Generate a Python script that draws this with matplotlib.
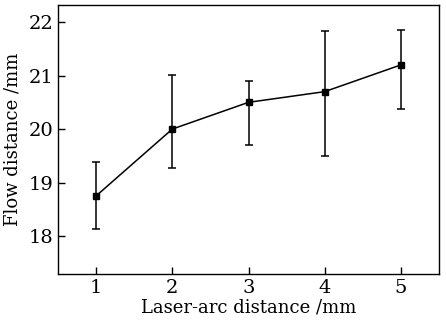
import numpy as np
import matplotlib
matplotlib.use("Agg")
import matplotlib.pyplot as plt

plt.rcParams['font.family'] = ['DejaVu Serif']
plt.rcParams['mathtext.fontset'] = 'dejavuserif'

laser_arc = [1, 2, 3, 4, 5]
flow_mean = [18.75, 20.0, 20.5, 20.7, 21.2]
err_low = [18.13, 19.28, 19.70, 19.50, 20.38]
err_high = [19.39, 21.01, 20.90, 21.83, 21.85]

lower = np.array(flow_mean) - np.array(err_low)
upper = np.array(err_high) - np.array(flow_mean)

fig = plt.figure(figsize=(4.46, 3.23), dpi=100)
ax = fig.add_axes([58/446, 49/323, 381/446, 269/323])

ax.errorbar(laser_arc, flow_mean, yerr=[lower, upper], color='black',
            marker='s', markersize=5, linewidth=1.1, elinewidth=1.1,
            capsize=3, capthick=1.1)

ax.set_xlim(0.5, 5.5)
ax.set_ylim(17.29, 22.32)
ax.set_xticks(laser_arc)
ax.set_yticks([18, 19, 20, 21, 22])
ax.tick_params(direction='in', length=5, width=1, labelsize=14, top=False, right=False)
for s in ax.spines.values():
    s.set_linewidth(1)

ax.set_xlabel('Laser-arc distance /mm', fontsize=13, labelpad=1)
ax.set_ylabel('Flow distance /mm', fontsize=13, labelpad=5)

fig.savefig('out.png', dpi=100)
